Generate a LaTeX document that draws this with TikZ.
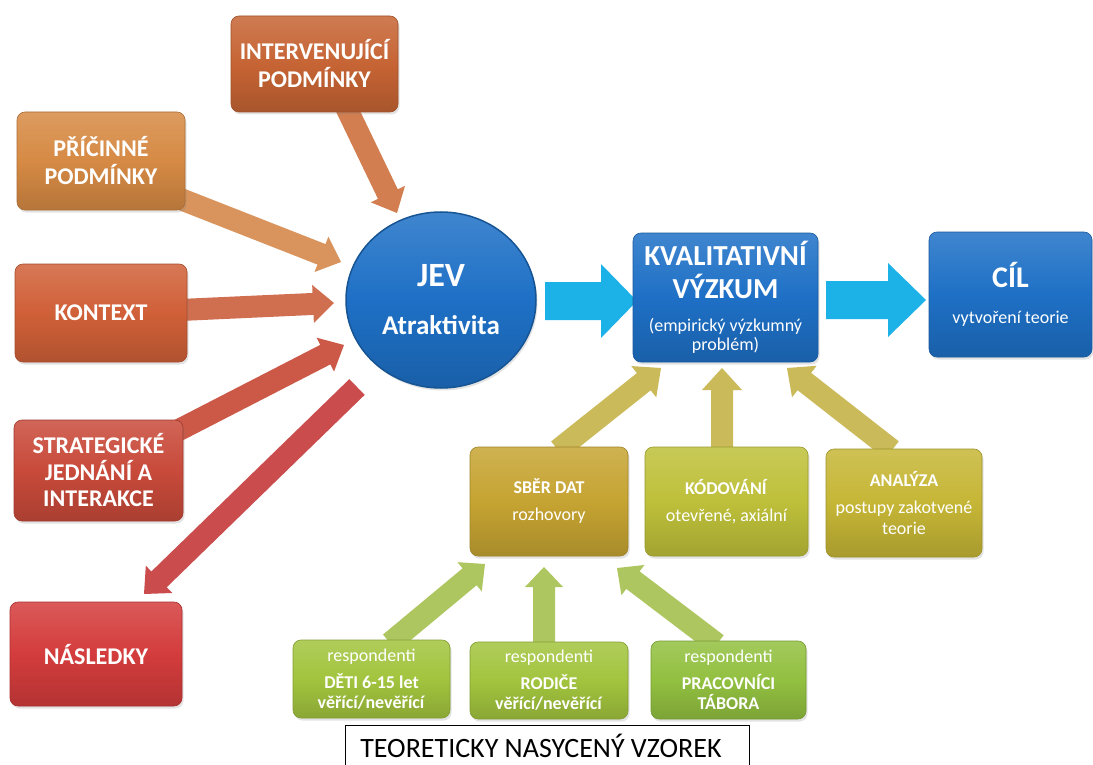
\documentclass[tikz,border=0pt]{standalone}
\usepackage{fontspec}
\setmainfont{Carlito}
\usetikzlibrary{calc,shadows,shapes.geometric}
\pgfdeclarelayer{bg}
\pgfsetlayers{bg,main}
\definecolor{cIntv}{HTML}{C66434}
\definecolor{cPric}{HTML}{D68A44}
\definecolor{cKont}{HTML}{D06038}
\definecolor{cStrat}{HTML}{C84A3A}
\definecolor{cNasl}{HTML}{D43C3C}
\definecolor{aIntv}{HTML}{D27E50}
\definecolor{aPric}{HTML}{D8945C}
\definecolor{aKont}{HTML}{D06E50}
\definecolor{aStrat}{HTML}{CC5848}
\definecolor{aNasl}{HTML}{CA4C4C}
\definecolor{cBlue}{HTML}{1E70C6}
\definecolor{cCyan}{HTML}{1CB2E8}
\definecolor{cSber}{HTML}{C6A432}
\definecolor{cKod}{HTML}{BEC03A}
\definecolor{cAnal}{HTML}{C6B636}
\definecolor{aUp}{HTML}{CABA5A}
\definecolor{cGreen}{HTML}{A2C43E}
\definecolor{cGreenB}{HTML}{92C040}
\definecolor{aGreen}{HTML}{AEC660}
\tikzset{
  box/.style={rounded corners=8pt, draw=#1!80!black, line width=0.6pt,
    top color=#1!85!white, bottom color=#1!85!black, middle color=#1,
    text=white, align=center, inner sep=2pt,
    drop shadow={opacity=0.22, shadow xshift=1.5pt, shadow yshift=-2.5pt}},
  bigtxt/.style={font=\fontsize{24}{28}\selectfont\bfseries},
  smalltxt/.style={font=\fontsize{18}{27}\selectfont},
  resptxt/.style={font=\fontsize{18}{27}\selectfont},
}
\newcommand\blockarrow[6]{%
  \coordinate (bS) at #1;
  \coordinate (bE) at #2;
  \coordinate (bH) at ($(bE)!#5!(bS)$);
  \fill[#6] ($(bS)!#3!90:(bE)$) -- ($(bH)!#3!90:(bE)$) -- ($(bH)!#4!90:(bE)$)
    -- (bE) -- ($(bH)!#4!-90:(bE)$) -- ($(bH)!#3!-90:(bE)$) -- ($(bS)!#3!-90:(bE)$) -- cycle;
}
\begin{document}
\begin{tikzpicture}[x=1pt,y=-1pt]
\useasboundingbox (0,0) rectangle (1093,765);
% left boxes
\node[box=cIntv, bigtxt, minimum width=167pt, minimum height=96pt] (intv) at (314.5,64) {INTERVENUJÍCÍ\\PODMÍNKY};
\node[box=cPric, bigtxt, minimum width=168pt, minimum height=98pt] (pric) at (101,161) {PŘÍČINNÉ\\PODMÍNKY};
\node[box=cKont, bigtxt, minimum width=172pt, minimum height=98pt] (kont) at (101,313) {KONTEXT};
\node[box=cStrat, font=\fontsize{24}{26.5}\selectfont\bfseries, minimum width=169pt, minimum height=101pt] (strat) at (98.5,470.5) {STRATEGICKÉ\\JEDNÁNÍ A\\INTERAKCE};
\node[box=cNasl, bigtxt, minimum width=172pt, minimum height=104pt] (nasl) at (96,654) {NÁSLEDKY};
% circle
\node[ellipse, draw=cBlue!75!black, line width=1.5pt, top color=cBlue!85!white, bottom color=cBlue!85!black, middle color=cBlue,
  text=white, align=center, minimum width=190pt, minimum height=176pt, inner sep=0pt,
  font=\fontsize{27}{48}\selectfont\bfseries,
  drop shadow={opacity=0.22, shadow xshift=1.5pt, shadow yshift=-2.5pt}] (jev) at (441,300)
  {{\fontsize{34}{40}\selectfont JEV}\\Atraktivita};
% blue boxes
\node[box=cBlue, minimum width=185pt, minimum height=129pt, font=\fontsize{18}{33}\selectfont] (kval) at (725.5,297.5)
  {{\fontsize{29}{33}\selectfont\bfseries KVALITATIVNÍ}\\{\fontsize{29}{33}\selectfont\bfseries VÝZKUM}\\(empirický výzkumný\\[-14pt]problém)};
\node[box=cBlue, minimum width=163pt, minimum height=125pt, font=\fontsize{18}{36}\selectfont] (cil) at (1010.5,294.5)
  {{\fontsize{30}{34}\selectfont\bfseries CÍL}\\vytvoření teorie};
% middle row
\node[box=cSber, smalltxt, minimum width=158pt, minimum height=109pt] (sber) at (549,501.5) {\textbf{SBĚR DAT}\\rozhovory};
\node[box=cKod, smalltxt, minimum width=163pt, minimum height=109pt] (kod) at (726.5,501.5) {\textbf{KÓDOVÁNÍ}\\otevřené, axiální};
\node[box=cAnal, smalltxt, minimum width=156pt, minimum height=108pt] (anal) at (904,503) {\textbf{ANALÝZA}\\postupy zakotvené\\[-6pt]teorie};
% bottom row
\node[box=cGreen, resptxt, minimum width=157pt, minimum height=78pt] (deti) at (371.5,679) {respondenti\\\textbf{DĚTI 6-15 let}\\[-7pt]\textbf{věřící/nevěřící}};
\node[box=cGreen, resptxt, minimum width=158pt, minimum height=77pt] (rod) at (549,680.5) {respondenti\\\textbf{RODIČE}\\[-7pt]\textbf{věřící/nevěřící}};
\node[box=cGreenB, resptxt, minimum width=155pt, minimum height=78pt] (prac) at (728.5,680) {respondenti\\\textbf{PRACOVNÍCI}\\[-7pt]\textbf{TÁBORA}};
% sample label
\node[draw=black, line width=0.8pt, fill=white, minimum width=404pt, minimum height=50pt, anchor=north] (vz) at (547,725) {};
\node[font=\fontsize{28}{32}\selectfont, anchor=base] (vzt) at (541,757) {TEORETICKY NASYCENÝ VZOREK};
% arrows
\begin{pgfonlayer}{bg}
\fill[white] (0,0) rectangle (1093,765);
\blockarrow{($(intv)+(30.5,41)$)}{($(jev)+(-44,-87)$)}{11pt}{19pt}{21pt}{fill=aIntv}
\blockarrow{($(pric)+(77,37)$)}{($(jev)+(-100,-38)$)}{11pt}{19pt}{21pt}{fill=aPric}
\blockarrow{($(kont)+(79,-3)$)}{($(jev)+(-107,3)$)}{11pt}{19pt}{21pt}{fill=aKont}
\blockarrow{($(strat)+(76.5,-38.5)$)}{($(jev)+(-97,45)$)}{11pt}{19pt}{21pt}{fill=aStrat}
\blockarrow{($(jev)+(-84,87)$)}{($(nasl)+(48,-60)$)}{11pt}{19pt}{21pt}{fill=aNasl}
\blockarrow{($(jev)+(104,1)$)}{($(kval)+(-88.5,3.5)$)}{19pt}{37pt}{36pt}{fill=cCyan}
\blockarrow{($(kval)+(100.5,2.5)$)}{($(cil)+(-84.5,5.5)$)}{19pt}{37pt}{38pt}{fill=cCyan}
\blockarrow{($(sber)+(9,-51.5)$)}{($(kval)+(-64.5,70.5)$)}{11pt}{20pt}{22pt}{fill=aUp}
\blockarrow{($(kod)+(-4.5,-51.5)$)}{($(kval)+(-3.5,70.5)$)}{11pt}{20pt}{22pt}{fill=aUp}
\blockarrow{($(anal)+(-12,-53)$)}{($(kval)+(61.5,70.5)$)}{11pt}{20pt}{22pt}{fill=aUp}
\blockarrow{($(deti)+(18.5,-36)$)}{($(sber)+(-64,62.5)$)}{11pt}{19pt}{20pt}{fill=aGreen}
\blockarrow{($(rod)+(-5,-35.5)$)}{($(sber)+(-5,65.5)$)}{11pt}{19pt}{20pt}{fill=aGreen}
\blockarrow{($(prac)+(-11.5,-36)$)}{($(sber)+(68,66.5)$)}{11pt}{19pt}{20pt}{fill=aGreen}
\end{pgfonlayer}
\end{tikzpicture}
\end{document}
